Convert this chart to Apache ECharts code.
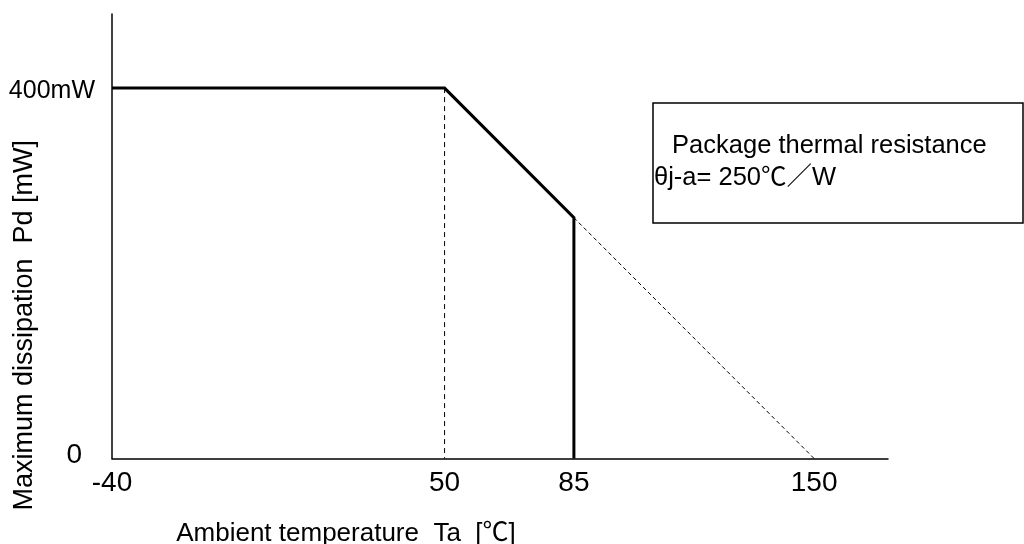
<!DOCTYPE html>
<html>
<head>
<meta charset="utf-8">
<script src="https://cdn.jsdelivr.net/npm/echarts@6/dist/echarts.min.js"></script>
<style>
  html, body { margin: 0; padding: 0; background: #fff; }
  #chart { width: 1024px; height: 544px; }
</style>
</head>
<body>
<div id="chart"></div>
<script>
// derating curve: Ta [°C] vs Pd [mW]
const curveTemp = [-40, 50, 85, 85];
const curvePower = [400, 400, 260, 0];
// dashed extension down to Tj max
const extTemp = [85, 150];
const extPower = [260, 0];
// dashed guide at knee
const guideTemp = [50, 50];
const guidePower = [400, 0];

const xTicks = [-40, 50, 85, 150];
const yTicks = [0, 400];

const FONT = "'Liberation Sans', Arial, 'Noto Sans CJK JP', sans-serif";

const zip = (xs, ys) => xs.map((x, i) => [x, ys[i]]);

const chart = echarts.init(document.getElementById("chart"));

const option = {
  backgroundColor: "#fff",
  animation: false,
  textStyle: { fontFamily: FONT, color: "#000" },
  grid: {
    left: 112,
    right: 136,
    top: 14,
    bottom: 85.5,
    outerBoundsMode: "none",
  },
  xAxis: {
    type: "value",
    min: -40,
    max: 170,
    interval: 5,
    name: "Ambient temperature  Ta  [\u2103]",
    nameLocation: "middle",
    nameGap: 62,
    nameMoveOverlap: false,
    nameTextStyle: {
      fontSize: 26,
      fontFamily: FONT,
      color: "#000",
      padding: [0, 308, 0, 0],
    },
    axisLine: { show: true, onZero: false, lineStyle: { color: "#000", width: 1.5 } },
    axisTick: { show: false },
    splitLine: { show: false },
    axisLabel: {
      margin: 11,
      fontSize: 28,
      color: "#000",
      fontFamily: FONT,
      formatter: (v) => (xTicks.includes(v) ? String(v) : ""),
    },
  },
  yAxis: {
    type: "value",
    min: 0,
    max: 480,
    interval: 80,
    name: "Maximum dissipation  Pd [mW]",
    nameLocation: "middle",
    nameGap: 74,
    nameRotate: 90,
    nameMoveOverlap: false,
    nameTextStyle: {
      fontSize: 27,
      fontFamily: FONT,
      color: "#000",
      padding: [0, 178, 0, 0],
    },
    axisLine: { show: true, onZero: false, lineStyle: { color: "#000", width: 1.5 } },
    axisTick: { show: false },
    splitLine: { show: false },
    axisLabel: {
      margin: 17,
      color: "#000",
      fontFamily: FONT,
      formatter: (v) => {
        if (!yTicks.includes(v)) return "";
        return v === 0 ? "{z|0}" : "{p|" + v + "mW}";
      },
      rich: {
        z: { fontSize: 28, fontFamily: FONT, color: "#000", padding: [0, 13, 6, 0] },
        p: { fontSize: 25, fontFamily: FONT, color: "#000", padding: [6, 0, 0, 0] },
      },
    },
  },
  series: [
    {
      type: "line",
      data: zip(guideTemp, guidePower),
      symbol: "none",
      silent: true,
      lineStyle: { color: "#000", width: 1, type: [5, 4] },
      z: 1,
    },
    {
      type: "line",
      data: zip(extTemp, extPower),
      symbol: "none",
      silent: true,
      lineStyle: { color: "#000", width: 1, type: [4, 3] },
      z: 1,
    },
    {
      type: "line",
      data: zip(curveTemp, curvePower),
      symbol: "none",
      silent: true,
      lineStyle: { color: "#000", width: 3, join: "miter" },
      z: 3,
    },
  ],
  graphic: [
    {
      type: "rect",
      shape: { x: 653, y: 103, width: 370, height: 120 },
      style: { fill: "#fff", stroke: "#000", lineWidth: 1.5 },
      z: 10,
    },
    {
      type: "text",
      x: 665,
      y: 146,
      style: {
        text: " Package thermal resistance",
        font: "25.5px " + FONT,
        fill: "#000",
        textVerticalAlign: "middle",
      },
      z: 11,
    },
    {
      type: "text",
      x: 654,
      y: 178,
      style: {
        text: "\u03b8j-a= 250\u2103\uff0fW",
        font: "25.5px " + FONT,
        fill: "#000",
        textVerticalAlign: "middle",
      },
      z: 11,
    },
  ],
};

chart.setOption(option);
</script>
</body>
</html>
